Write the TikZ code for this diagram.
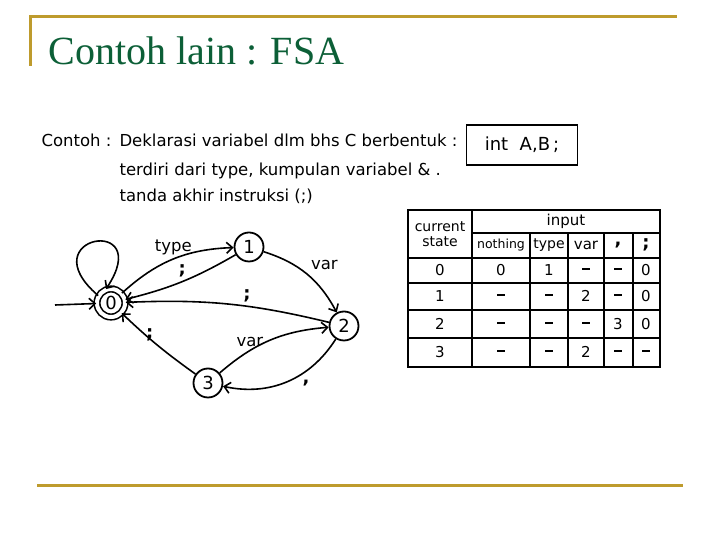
\documentclass[tikz,border=0pt]{standalone}
\usepackage{fontspec}
\setmainfont{Liberation Serif}
\newfontfamily\handfont{DejaVu Sans}
\usetikzlibrary{arrows.meta}
\definecolor{slidegold}{RGB}{190,155,45}
\definecolor{slidegreen}{RGB}{12,95,55}
\newcommand{\nil}{\rule[0.3ex]{8pt}{1.8pt}}

\begin{document}
\begin{tikzpicture}[x=1pt,y=1pt,
  every node/.style={font=\handfont\fontsize{16.5}{18}\selectfont},
  state/.style={draw,circle,line width=1.8pt,minimum size=29pt,inner sep=0pt,font=\handfont\fontsize{18}{20}\selectfont},
  arr/.style={-{Straight Barb[length=6pt,width=11pt]},line width=1.6pt},
  semi/.style={font=\handfont\bfseries\fontsize{18}{20}\selectfont},
  gold/.style={slidegold,line width=3pt},
  grid/.style={line width=1.8pt},
  cell/.style={font=\handfont\fontsize{15}{16}\selectfont}]
\useasboundingbox (0,0) rectangle (720,540);
% kop slide
\draw[gold] (30,474) -- (30,523) -- (677,523);
\draw[gold] (37,54) -- (683,54);
\node[anchor=base west,text=slidegreen,font=\fontsize{40}{44}\selectfont] (title) at (45,475) {Contoh lain : FSA};
% teks soal
\node[anchor=base west] (ket) at (38,393) {Contoh :};
\node[anchor=base west] (baris1) at (116,393) {Deklarasi variabel dlm bhs C berbentuk :};
\node[anchor=base west] (baris2) at (116,364) {terdiri dari type, kumpulan variabel \& .};
\node[anchor=base west] (baris3) at (116,338) {tanda akhir instruksi (;)};
\node[draw,line width=1.8pt,minimum width=111pt,minimum height=40pt,font=\handfont\fontsize{18}{20}\selectfont] (decl) at (522,395) {int\ \ A,B\,;};
% diagram FSA
\node[state,double,double distance=4pt,line width=1.6pt,minimum size=28pt] (s0) at (111,237) {0};
\node[state] (s1) at (249,293) {1};
\node[state] (s2) at (344,214) {2};
\node[state] (s3) at (208,157) {3};
\coordinate (init) at (55,235);
\draw[arr] (init) -- (s0);
\draw[arr] (s0.150) .. controls +(-70,60) and +(50,75) .. (s0.110);
\draw[arr] (s0) to[bend left=20] node[above] (ltype) {type} (s1);
\draw[arr] (s1) to[bend left=8] node[semi,above] (lsc1) {;} (s0);
\draw[arr] (s1) to[bend left=22] node[above right] (lvar1) {var} (s2);
\draw[arr] (s2) to[bend right=8] node[semi,above,pos=.4] (lsc2) {;} (s0);
\draw[arr] (s3) to[bend left=4] node[semi,above left,pos=.5] (lsc3) {;} (s0);
\draw[arr] (s3) to[bend left=18] node[above,pos=.3] (lvar3) {var} (s2);
\draw[arr] (s2) to[bend left=35] node[semi,below right,pos=.4] (lkoma) {,} (s3);
% tabel transisi
\draw[grid] (408,330) rectangle (660,173);
\draw[grid] (472,307) -- (660,307);
\draw[grid] (408,282) -- (660,282);
\foreach \y in {257,230,202} \draw[grid] (408,\y) -- (660,\y);
\draw[grid] (472,330) -- (472,173);
\foreach \x in {530,568,604,633} \draw[grid] (\x,307) -- (\x,173);
\node[cell,align=center,font=\handfont\fontsize{14}{15}\selectfont] (hstate) at (440,306) {current\\state};
\node[cell] (hinput) at (566,319) {input};
\node[cell,font=\handfont\fontsize{12.5}{14}\selectfont] (hnothing) at (501,295) {nothing};
\node[cell,font=\handfont\fontsize{14}{16}\selectfont] (htype) at (549,295) {type};
\node[cell] (hvar) at (586,295) {var};
\node[cell,semi] (hkoma) at (618,295) {,};
\node[cell,semi] (hsc) at (646,295) {;};
\foreach \y/\q/\a/\b/\c/\d/\e in {270/0/0/1/\nil/\nil/0, 244/1/\nil/\nil/2/\nil/0, 216/2/\nil/\nil/\nil/3/0, 188/3/\nil/\nil/2/\nil/\nil}{
  \node[cell] (q\q) at (440,\y) {\q};
  \node[cell] (q\q-a) at (501,\y) {\a};
  \node[cell] (q\q-b) at (549,\y) {\b};
  \node[cell] (q\q-c) at (586,\y) {\c};
  \node[cell] (q\q-d) at (618,\y) {\d};
  \node[cell] (q\q-e) at (646,\y) {\e};
}
\end{tikzpicture}
\end{document}
